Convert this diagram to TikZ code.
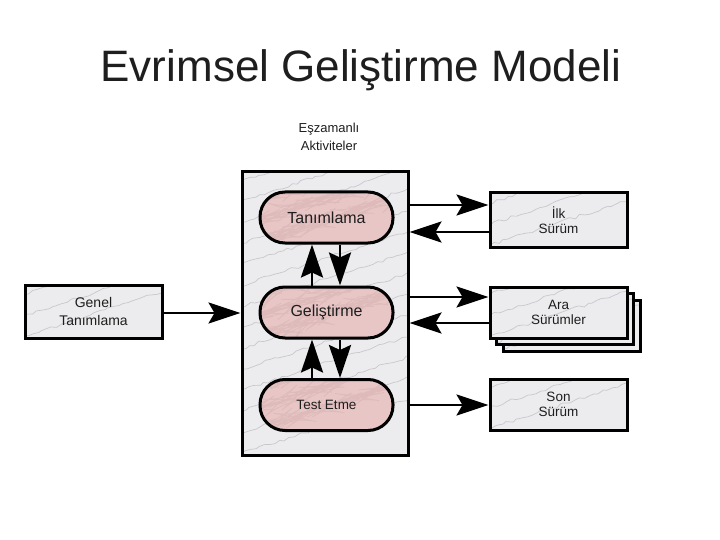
\documentclass[tikz,border=0pt]{standalone}
\usepackage{fontspec}
\setmainfont{Liberation Sans}
\usetikzlibrary{arrows.meta,positioning,decorations.pathmorphing}
\definecolor{marble}{RGB}{236,236,238}
\definecolor{vein}{RGB}{200,200,204}
\definecolor{pinkfill}{RGB}{232,198,198}
\definecolor{pinkvein}{RGB}{222,186,186}
\definecolor{txt}{RGB}{30,30,30}
\pgfmathsetseed{11}
\tikzset{
  veins/.style={
    path picture={
      \foreach \j in {0,...,14}{
        \draw[#1, line width=0.7pt, line cap=round, decorate, decoration={random steps,segment length=5pt,amplitude=1.6pt}]
          ([xshift=-30pt,yshift=\j*21pt-8pt]path picture bounding box.south west) -- ++(230pt,75pt);
      }
    }
  },
  marblebox/.style={draw=black, line width=3pt, fill=marble, veins=vein, align=center, text=txt, font=\fontsize{13.5}{15.5}\selectfont, inner sep=0pt},
  pill/.style={draw=black, line width=3pt, fill=pinkfill, veins=pinkvein, rounded corners=25pt, minimum width=133pt, minimum height=51pt, text=txt, inner sep=0pt},
  arr/.style={line width=2.7pt, -{Stealth[length=32pt,width=21pt,inset=6pt]}},
  varr/.style={line width=2.7pt, -{Stealth[length=33pt,width=22pt,inset=5pt]}},
}
\begin{document}
\begin{tikzpicture}[x=1pt,y=-1pt]
\useasboundingbox (0,0) rectangle (720,540);
\fill[white] (0,0) rectangle (720,540);

% title
\node[font=\fontsize{44}{50}\selectfont, text=txt] (title) at (361,70) {Evrimsel Geliştirme Modeli};
\node[align=center, font=\fontsize{13}{18}\selectfont, text=txt] (esz) at (329,137) {Eşzamanlı\\Aktiviteler};

% container
\node[marblebox, minimum width=166pt, minimum height=283pt] (cont) at (325,313.5) {};

% pills
\node[pill, font=\fontsize{16}{18}\selectfont] (tan) at (326.5,217.5) {Tanımlama};
\node[pill, font=\fontsize{16}{18}\selectfont] (gel) at (326.5,312.5) {Geliştirme};
\node[pill, font=\fontsize{13.5}{16}\selectfont] (test) at (326.5,405) {Test Etme};

% vertical arrows
\draw[varr] ([xshift=-14.5pt]gel.north) -- ([xshift=-14.5pt]tan.south);
\draw[varr] ([xshift=13.5pt]tan.south) -- ([xshift=13.5pt]gel.north);
\draw[varr] ([xshift=-14.5pt]test.north) -- ([xshift=-14.5pt]gel.south);
\draw[varr] ([xshift=13.5pt]gel.south) -- ([xshift=13.5pt]test.north);

% left box
\node[marblebox, minimum width=137pt, minimum height=53pt, font=\fontsize{14}{18}\selectfont] (genel) at (93.5,311.5) {Genel\\Tanımlama};
\draw[arr] (genel.east |- 0,313) -- (cont.west |- 0,313);

% right boxes
\node[marblebox, minimum width=137pt, minimum height=54pt] (ilk) at (558.5,220) {İlk\\Sürüm};
\node[marblebox, minimum width=137pt, minimum height=51pt] (ara3) at (571.5,325.5) {};
\node[marblebox, minimum width=137pt, minimum height=51pt] (ara2) at (565,319) {};
\node[marblebox, minimum width=137pt, minimum height=51pt] (ara) at (558.5,312.5) {Ara\\Sürümler};
\node[marblebox, minimum width=137pt, minimum height=51pt] (son) at (558.5,404.5) {Son\\Sürüm};

% horizontal arrows
\draw[arr] (cont.east |- 0,205) -- (ilk.west |- 0,205);
\draw[arr] (ilk.west |- 0,232) -- (cont.east |- 0,232);
\draw[arr] (cont.east |- 0,297) -- (ara.west |- 0,297);
\draw[arr] (ara.west |- 0,323) -- (cont.east |- 0,323);
\draw[arr] (cont.east |- 0,405) -- (son.west |- 0,405);
\end{tikzpicture}
\end{document}
